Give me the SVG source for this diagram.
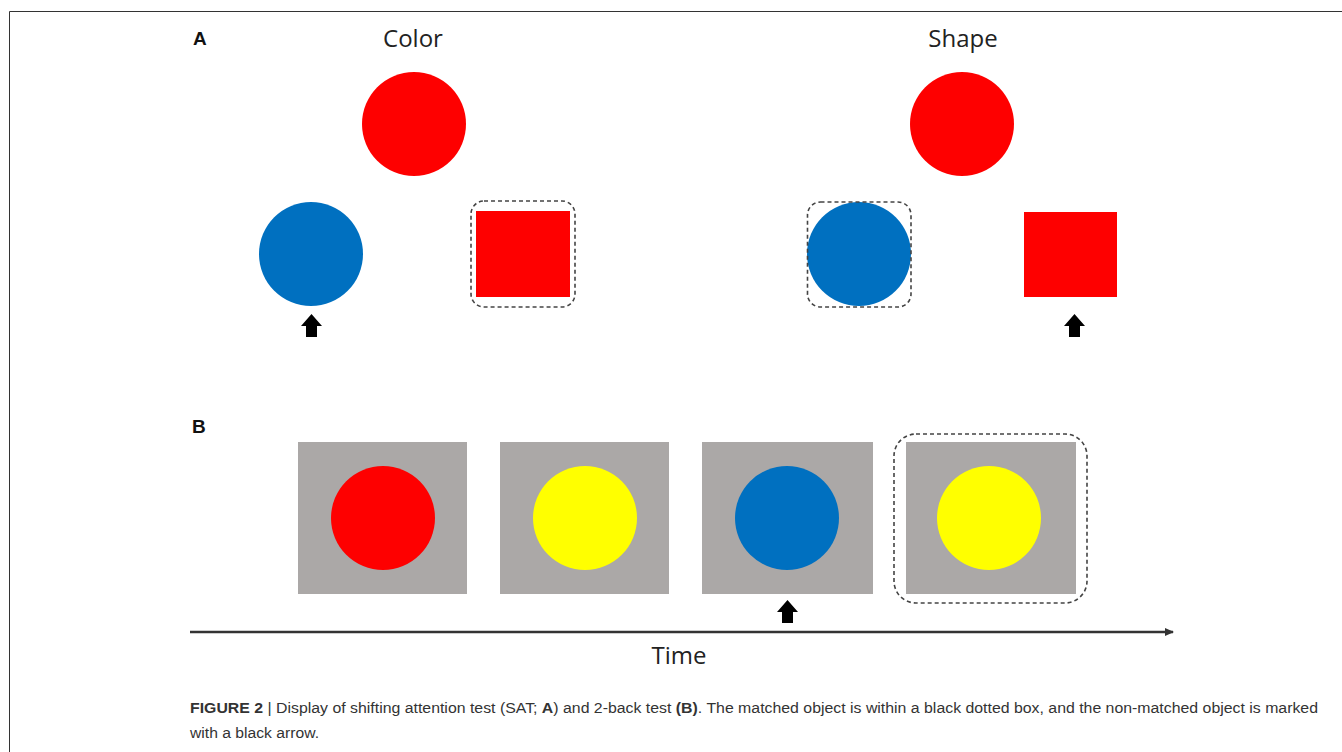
<svg xmlns="http://www.w3.org/2000/svg" width="1342" height="752" viewBox="0 0 1342 752">
<style>
.title{font-family:"Open Sans","Liberation Sans",sans-serif;font-size:24px;fill:#222;text-anchor:middle}
.lbl{font-family:"Liberation Sans",Arial,sans-serif;font-size:19px;font-weight:bold;fill:#111}
.cap{font-family:"Liberation Sans",Arial,sans-serif;font-size:15.5px;fill:#333}
.red{fill:#fe0000}
.blue{fill:#0070c0}
.yel{fill:#ffff00}
.gray{fill:#aba8a7}
.dash{fill:none;stroke:#444;stroke-width:1.6;stroke-dasharray:4 3}
.arr{fill:#000}
</style>
<defs>
<path id="up" d="M0 0 L10.5 12 L5.5 12 L5.5 23 L-5.5 23 L-5.5 12 L-10.5 12 Z"/>
<marker id="head" markerWidth="10" markerHeight="10" refX="8" refY="4" orient="auto" markerUnits="userSpaceOnUse">
<path d="M0 0 L9 4 L0 8 Z" fill="#333"/>
</marker>
</defs>
<rect width="1342" height="752" fill="#fff"/>
<path d="M9.5 752 L9.5 11.5 L1342 11.5" fill="none" stroke="#333" stroke-width="1"/>

<text class="lbl" x="193" y="45">A</text>
<text class="title" x="413" y="47">Color</text>
<text class="title" x="963" y="47">Shape</text>

<g id="color-target"><circle class="red" cx="414" cy="124" r="52"/></g>
<g id="color-blue-circle"><circle class="blue" cx="311" cy="254" r="52"/><use href="#up" class="arr" x="311.5" y="314"/></g>
<g id="color-red-square"><rect class="red" x="476" y="211" width="94" height="86"/><rect class="dash" x="471" y="201" width="104" height="106" rx="13"/></g>

<g id="shape-target"><circle class="red" cx="962" cy="124" r="52"/></g>
<g id="shape-blue-circle"><circle class="blue" cx="859" cy="254" r="52"/><rect class="dash" x="807.5" y="202" width="103.5" height="105" rx="13"/></g>
<g id="shape-red-square"><rect class="red" x="1024" y="212" width="93" height="85"/><use href="#up" class="arr" x="1074.5" y="314"/></g>

<text class="lbl" x="192" y="433">B</text>
<g id="b1"><rect class="gray" x="298" y="442" width="169" height="152"/><circle class="red" cx="383" cy="518" r="52"/></g>
<g id="b2"><rect class="gray" x="500" y="442" width="169" height="152"/><circle class="yel" cx="585" cy="518" r="52"/></g>
<g id="b3"><rect class="gray" x="702" y="442" width="171" height="152"/><circle class="blue" cx="787" cy="518" r="52"/><use href="#up" class="arr" x="787.5" y="600"/></g>
<g id="b4"><rect class="gray" x="906" y="442" width="170" height="152"/><circle class="yel" cx="989" cy="518" r="52"/><rect class="dash" x="894" y="434" width="193" height="169" rx="22"/></g>

<g id="connectors">
<line x1="190" y1="632" x2="1173" y2="632" stroke="#333" stroke-width="2.4" marker-end="url(#head)"/>
</g>
<text class="title" x="679" y="664">Time</text>

<text class="cap" x="190" y="713" textLength="1128" lengthAdjust="spacingAndGlyphs"><tspan font-weight="bold">FIGURE 2</tspan> | Display of shifting attention test (SAT; <tspan font-weight="bold">A</tspan>) and 2-back test <tspan font-weight="bold">(B)</tspan>. The matched object is within a black dotted box, and the non-matched object is marked</text>
<text class="cap" x="190" y="738" textLength="129" lengthAdjust="spacingAndGlyphs">with a black arrow.</text>
</svg>
